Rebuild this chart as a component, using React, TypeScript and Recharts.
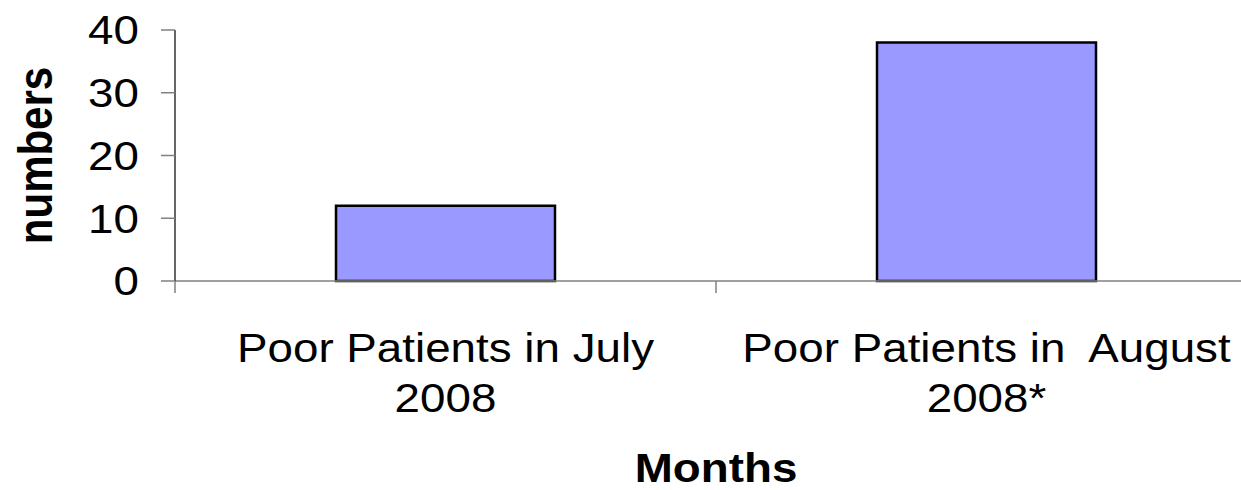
import { BarChart, Bar, XAxis, YAxis, Label } from 'recharts'

const categories = ['Poor Patients in July|2008', 'Poor Patients in  August|2008*']
const patients = [12, 38]
const yTicks = [0, 10, 20, 30, 40]

const data = categories.map((name, i) => ({ name, value: patients[i] }))

const FONT = '"Liberation Sans", Arial, sans-serif'
const STRETCH = 1.13
const AXIS_GRAY = '#808080'

// category labels plus Excel-style tick marks between categories
function XTick(props: any) {
  const { x, y, payload, index } = props
  const half = payload.offset || 0
  const lines = String(payload.value).split('|')
  return (
    <g>
      {index === 0 && (
        <line x1={x - half} x2={x - half} y1={y} y2={y + 12} stroke={AXIS_GRAY} strokeWidth={1.5} />
      )}
      <line x1={x + half} x2={x + half} y1={y} y2={y + 12} stroke={AXIS_GRAY} strokeWidth={1.5} />
      {lines.map((line, i) => (
        <text
          key={i}
          transform={`translate(${x},${y + 81 + i * 50}) scale(${STRETCH},1)`}
          textAnchor="middle"
          fontSize={40.5}
          fontFamily={FONT}
          fill="#000"
          style={{ whiteSpace: 'pre' }}
        >
          {line}
        </text>
      ))}
    </g>
  )
}

function YTick(props: any) {
  const { x, y, payload } = props
  return (
    <text
      transform={`translate(${x},${y}) scale(${STRETCH},1)`}
      textAnchor="end"
      dy="0.355em"
      fontSize={40.5}
      fontFamily={FONT}
      fill="#000"
    >
      {payload.value}
    </text>
  )
}

function XTitle(props: any) {
  const vb = props.viewBox
  return (
    <text
      transform={`translate(${vb.x + vb.width / 2},${vb.y + 201}) scale(${STRETCH},1)`}
      textAnchor="middle"
      fontSize={40.5}
      fontWeight="bold"
      fontFamily={FONT}
      fill="#000"
    >
      Months
    </text>
  )
}

function YTitle(props: any) {
  const vb = props.viewBox
  return (
    <text
      transform={`translate(52,${vb.y + vb.height / 2}) scale(1.13,1) rotate(-90)`}
      textAnchor="middle"
      fontSize={42}
      fontWeight="bold"
      fontFamily={FONT}
      fill="#000"
    >
      numbers
    </text>
  )
}

export default function App() {
  return (
    <div style={{ position: 'absolute', left: 0, top: 0, width: 1241, height: 490, overflow: 'hidden', background: '#fff' }}>
      <BarChart
        width={1280}
        height={490}
        data={data}
        margin={{ top: 30, right: 23, left: 0, bottom: 0 }}
      >
        <XAxis
          dataKey="name"
          height={209}
          axisLine={{ stroke: AXIS_GRAY, strokeWidth: 1.5 }}
          tickLine={false}
          tickSize={0}
          tickMargin={0}
          interval={0}
          tick={<XTick />}
        >
          <Label content={<XTitle />} />
        </XAxis>
        <YAxis
          width={175}
          domain={[0, 40]}
          ticks={yTicks}
          interval={0}
          tickSize={14}
          tickMargin={22}
          axisLine={{ stroke: '#333', strokeWidth: 1.5 }}
          tickLine={{ stroke: AXIS_GRAY, strokeWidth: 1.5 }}
          tick={<YTick />}
        >
          <Label content={<YTitle />} />
        </YAxis>
        <Bar
          dataKey="value"
          fill="#9999FF"
          stroke="#000"
          strokeWidth={2.5}
          barSize={219}
          isAnimationActive={false}
        />
      </BarChart>
    </div>
  )
}
